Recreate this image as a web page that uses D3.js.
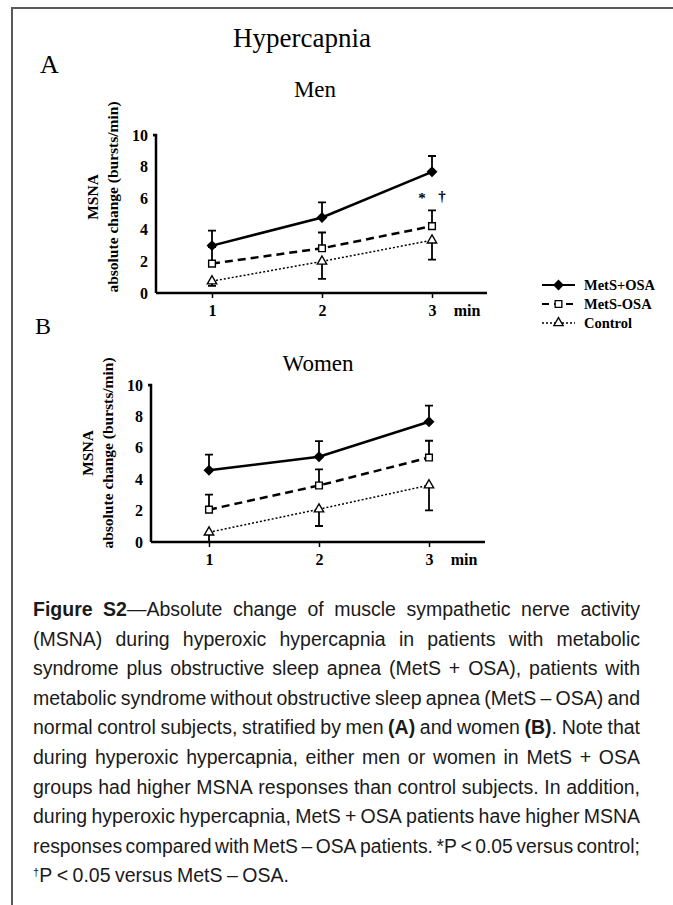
<!DOCTYPE html>
<html>
<head>
<meta charset="utf-8">
<script src="https://cdn.jsdelivr.net/npm/d3@7"></script>
<style>
  body { margin: 0; background: #fff; }
  svg { display: block; }
</style>
</head>
<body>
<div class="chart"></div>
<script>
// data
var minutes = [1, 2, 3];
var yTicks = [0, 2, 4, 6, 8, 10];
var seriesNames = ['MetS+OSA', 'MetS-OSA', 'Control'];

var menMetsOsa = [3.0, 4.78, 7.67];
var menMetsOsaErr = [0.95, 0.95, 1.0];
var menMetsNoOsa = [1.86, 2.83, 4.23];
var menMetsNoOsaErr = [1.05, 1.0, 1.0];
var menControl = [0.75, 2.0, 3.34];
var menControlErr = [0.3, 1.1, 1.23];

var womenMetsOsa = [4.57, 5.43, 7.66];
var womenMetsOsaErr = [1.0, 1.0, 1.02];
var womenMetsNoOsa = [2.06, 3.6, 5.38];
var womenMetsNoOsaErr = [0.96, 1.02, 1.07];
var womenControl = [0.62, 2.09, 3.62];
var womenControlErr = [0.62, 1.07, 1.6];

var captionLines = [
  '~Figure~ ~S2~—Absolute change of muscle sympathetic nerve activity',
  '(MSNA) during hyperoxic hypercapnia in patients with metabolic',
  'syndrome plus obstructive sleep apnea (MetS + OSA), patients with',
  'metabolic syndrome without obstructive sleep apnea (MetS – OSA) and',
  'normal control subjects, stratified by men ~(A)~ and women ~(B)~. Note that',
  'during hyperoxic hypercapnia, either men or women in MetS + OSA',
  'groups had higher MSNA responses than control subjects. In addition,',
  'during hyperoxic hypercapnia, MetS + OSA patients have higher MSNA',
  'responses compared with MetS – OSA patients. *P < 0.05 versus control;',
  '`†`P < 0.05 versus MetS – OSA.'
];

var W = 673, H = 905;
var serif = '"Liberation Serif", "Times New Roman", serif';

var svg = d3.select('.chart')
    .append('svg')
    .attr('width', W)
    .attr('height', H);

// frame (only top and left edges are visible)
svg.append('path')
    .attr('d', 'M12,905 V8 H673')
    .style('fill', 'none')
    .style('stroke', '#5a5a5a')
    .style('stroke-width', 2);

svg.append('text')
    .attr('x', 302).attr('y', 47)
    .attr('text-anchor', 'middle')
    .style('font-family', serif).style('font-size', '27px')
    .text('Hypercapnia');

svg.append('text').attr('x', 40).attr('y', 73)
    .style('font-family', serif).style('font-size', '26px').text('A');
svg.append('text').attr('x', 35).attr('y', 334)
    .style('font-family', serif).style('font-size', '24px').text('B');

// diamond is a square turned 45 degrees
var styles = [
  { dash: null, width: 2.5, symbol: d3.symbolSquare, rot: 45, size: 40, fill: '#000', up: true },
  { dash: '8,5', width: 2.5, symbol: d3.symbolSquare, rot: 0, size: 45, fill: '#fff', up: true },
  { dash: '2,2', width: 1.5, symbol: d3.symbolTriangle, rot: 0, size: 38, fill: '#fff', up: false }
];

function panel(p) {
  var xScale = d3.scaleLinear()
    .domain([0.5, 3.5])
    .range([p.x1 - 55, p.x1 + 275]);
  var yScale = d3.scaleLinear()
    .domain([0, 10])
    .range([p.y0, p.y10]);

  var g = svg.append('g');

  g.append('text')
    .attr('x', p.titleX).attr('y', p.titleY)
    .attr('text-anchor', 'middle')
    .style('font-family', serif).style('font-size', '23px')
    .text(p.title);

  // y axis
  var yAxis = d3.axisLeft(yScale).tickValues(yTicks).tickSize(3).tickPadding(5);
  var ya = g.append('g')
    .attr('transform', 'translate(' + p.axisX + ',0)')
    .call(yAxis);
  ya.select('.domain').attr('d', 'M-3,' + p.y10 + 'H0V' + p.y0);
  ya.selectAll('.tick line').filter(function(d) { return d != 10; }).remove();

  // x axis
  var xAxis = d3.axisBottom(xScale).tickValues(minutes).tickSize(5).tickPadding(7).tickFormat(d3.format('d'));
  var xa = g.append('g')
    .attr('transform', 'translate(0,' + p.y0 + ')')
    .call(xAxis);
  xa.select('.domain').attr('d', 'M' + p.axisX + ',0H' + p.axisEnd);

  g.selectAll('.domain').style('stroke-width', 2.5).style('stroke', '#000');
  g.selectAll('.tick line').style('stroke-width', 1.5);
  g.selectAll('.tick text')
    .style('font-family', serif).style('font-size', '16px').style('font-weight', 'bold');

  g.append('text')
    .attr('x', p.x1 + 255).attr('y', p.y0 + 23)
    .attr('text-anchor', 'middle')
    .style('font-family', serif).style('font-size', '16px').style('font-weight', 'bold')
    .text('min');

  // y axis title, two rotated lines
  g.append('text')
    .attr('transform', 'translate(' + (p.axisX - 58) + ',' + p.tY + ') rotate(-90)')
    .attr('text-anchor', 'middle')
    .style('font-family', serif).style('font-size', '15.5px').style('font-weight', 'bold')
    .text('MSNA');
  g.append('text')
    .attr('transform', 'translate(' + (p.axisX - 38) + ',' + p.tY + ') rotate(-90)')
    .attr('text-anchor', 'middle')
    .style('font-family', serif).style('font-size', '15.5px').style('font-weight', 'bold')
    .text('absolute change (bursts/min)');

  var line = d3.line()
    .x(function(d, i) { return xScale(minutes[i]); })
    .y(function(d) { return yScale(d); });

  // draw in reverse so MetS+OSA sits on top
  [2, 1, 0].forEach(function(k) {
    var vals = p.series[k], errs = p.errs[k], st = styles[k];
    var sg = g.append('g');
    sg.selectAll('.err')
      .data(vals)
      .enter().append('path')
      .attr('d', function(d, i) {
        var x = xScale(minutes[i]);
        var e = st.up ? d + errs[i] : d - errs[i];
        return 'M' + x + ',' + yScale(d) + 'V' + yScale(e) + 'M' + (x - 4) + ',' + yScale(e) + 'H' + (x + 4);
      })
      .style('stroke', '#000').style('stroke-width', 1.8).style('fill', 'none');
    sg.append('path')
      .attr('d', line(vals))
      .style('fill', 'none').style('stroke', '#000')
      .style('stroke-width', st.width)
      .style('stroke-dasharray', st.dash);
    sg.selectAll('.pt')
      .data(vals)
      .enter().append('path')
      .attr('transform', function(d, i) { return 'translate(' + xScale(minutes[i]) + ',' + yScale(d) + ') rotate(' + st.rot + ')'; })
      .attr('d', d3.symbol().type(st.symbol).size(st.size))
      .style('fill', st.fill).style('stroke', '#000').style('stroke-width', 1.4);
  });
  return { x: xScale, y: yScale, g: g };
}

var men = panel({
  title: 'Men', titleX: 315, titleY: 97,
  axisX: 156, axisEnd: 487, x1: 212, y0: 293, y10: 135, tY: 197,
  series: [menMetsOsa, menMetsNoOsa, menControl],
  errs: [menMetsOsaErr, menMetsNoOsaErr, menControlErr]
});

var women = panel({
  title: 'Women', titleX: 318, titleY: 371,
  axisX: 151, axisEnd: 485, x1: 209, y0: 542, y10: 385, tY: 453,
  series: [womenMetsOsa, womenMetsNoOsa, womenControl],
  errs: [womenMetsOsaErr, womenMetsNoOsaErr, womenControlErr]
});

// significance marks at minute 3 (men)
men.g.append('text')
  .attr('x', men.x(3) - 10).attr('y', 203)
  .attr('text-anchor', 'middle')
  .style('font-family', serif).style('font-size', '15px').style('font-weight', 'bold')
  .text('*');
men.g.append('text')
  .attr('x', men.x(3) + 10).attr('y', 201)
  .attr('text-anchor', 'middle')
  .style('font-family', serif).style('font-size', '15px').style('font-weight', 'bold')
  .text('†');

// legend
var legend = svg.append('g').attr('transform', 'translate(542,285)');
seriesNames.forEach(function(name, k) {
  var st = styles[k];
  var row = legend.append('g').attr('transform', 'translate(0,' + k * 19 + ')');
  var dash = k == 1 ? '7,5' : st.dash;
  row.append('path').attr('d', 'M0,0H33')
    .style('stroke', '#000').style('stroke-width', k == 2 ? 1.3 : 2)
    .style('stroke-dasharray', dash);
  row.append('path')
    .attr('transform', 'translate(16.5,0) rotate(' + st.rot + ')')
    .attr('d', d3.symbol().type(st.symbol).size(st.size))
    .style('fill', st.fill).style('stroke', '#000').style('stroke-width', 1.3);
  row.append('text').attr('x', 42).attr('y', 5)
    .style('font-family', serif).style('font-size', '14.5px').style('font-weight', 'bold')
    .text(name);
});

// caption, justified word by word
var capFont = '"Liberation Sans Narrow", "Arial Narrow", "Liberation Sans", sans-serif';
var capLeft = 33, capRight = 640, capTop = 616, capStep = 29.6;
var cap = svg.append('g')
    .style('font-family', capFont).style('font-size', '19.5px').style('fill', '#1a1a1a');

captionLines.forEach(function(ln, li) {
  var words = ln.split(' ');
  var nodes = words.map(function(w) {
    var t = cap.append('text').attr('y', capTop + li * capStep);
    var parts = w.split(/(~[^~]+~|`[^`]+`)/).filter(function(s) { return s.length; });
    parts.forEach(function(s, pi) {
      if (s[0] == '~') t.append('tspan').style('font-weight', 'bold').text(s.slice(1, -1));
      else if (s[0] == '`') t.append('tspan').attr('dy', -6).style('font-size', '11px').text(s.slice(1, -1));
      else t.append('tspan').attr('dy', pi > 0 && parts[pi - 1][0] == '`' ? 6 : null).text(s);
    });
    return t;
  });
  var widths = nodes.map(function(t) { return t.node().getComputedTextLength(); });
  var total = d3.sum(widths);
  var last = li == captionLines.length - 1;
  var gap = last ? 4.5 : (capRight - capLeft - total) / (words.length - 1);
  var k = 1;
  if (gap < 3.5) { k = (capRight - capLeft - 3.5 * (words.length - 1)) / total; gap = 3.5; }
  var x = capLeft;
  nodes.forEach(function(t, i) {
    t.attr('x', x);
    if (k < 1) t.attr('textLength', widths[i] * k).attr('lengthAdjust', 'spacingAndGlyphs');
    x += widths[i] * k + gap;
  });
});
</script>
</body>
</html>
